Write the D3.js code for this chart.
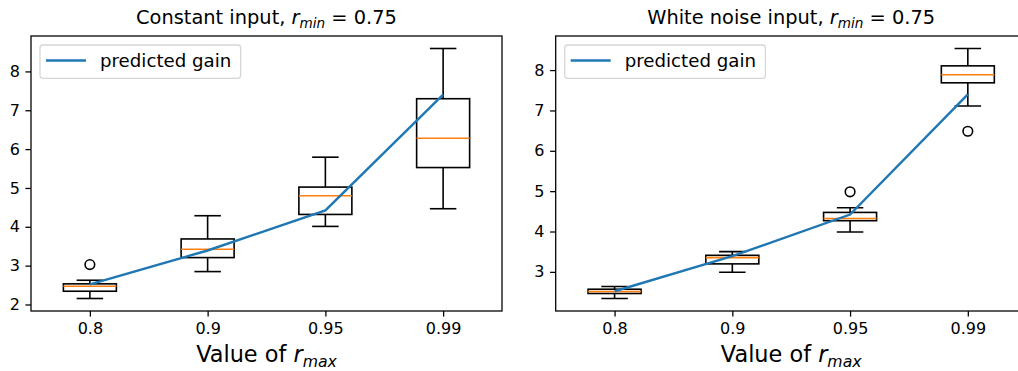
<!DOCTYPE html>
<html><head><meta charset="utf-8">
<script src="https://cdn.jsdelivr.net/npm/d3@7"></script>
<style>
html,body{margin:0;padding:0;background:#fff;}
svg{display:block;font-family:"DejaVu Sans",sans-serif;}
</style></head>
<body>
<svg id="chart" width="1018" height="371"></svg>
<script>
// ---- data ----
const categories = ["0.8", "0.9", "0.95", "0.99"];
const predictedGain = [2.52, 3.39, 4.42, 7.40];

// Constant input box statistics
const constWhisLo = [2.154, 2.847, 4.01, 4.465];
const constQ1     = [2.341, 3.207, 4.318, 5.525];
const constMedian = [2.47, 3.42, 4.798, 6.28];
const constQ3     = [2.531, 3.687, 5.022, 7.297];
const constWhisHi = [2.624, 4.285, 5.792, 8.59];
const constOutliers = [[3.027], [], [], []];

// White noise input box statistics
const noiseWhisLo = [2.34, 2.99, 3.988, 7.109];
const noiseQ1     = [2.464, 3.198, 4.268, 7.685];
const noiseMedian = [2.513, 3.353, 4.324, 7.883];
const noiseQ3     = [2.570, 3.41, 4.473, 8.105];
const noiseWhisHi = [2.637, 3.502, 4.589, 8.535];
const noiseOutliers = [[], [], [4.984], [6.484]];

const constTicks = [2, 3, 4, 5, 6, 7, 8];
const noiseTicks = [3, 4, 5, 6, 7, 8];

// ---- drawing ----
const svg = d3.select("#chart");
const BLUE = "#1f77b4", ORANGE = "#ff7f0e";

function drawPanel(opt) {
  const x0 = opt.left, x1 = opt.left + 471, y0 = 36, y1 = 311;
  const g = svg.append("g");
  const x = d3.scaleLinear().domain([0.5, 4.5]).range([x0, x1]);
  const all = [].concat(opt.lo, opt.hi, opt.out.flat(), predictedGain);
  const mn = d3.min(all), mx = d3.max(all), m = (mx - mn) * 0.05;
  const y = d3.scaleLinear().domain([mn - m, mx + m]).range([y1, y0]);

  const clipId = "clip" + Math.round(opt.left);
  svg.append("clipPath").attr("id", clipId).append("rect")
    .attr("x", x0).attr("y", y0).attr("width", x1 - x0).attr("height", y1 - y0);
  const plot = g.append("g").attr("clip-path", `url(#${clipId})`);

  const bw = 0.45, cw = 0.225;
  categories.forEach((c, i) => {
    const p = i + 1;
    const bg = plot.append("g").attr("fill", "none").attr("stroke", "#000").attr("stroke-width", 1.6);
    // whiskers
    bg.append("line").attr("x1", x(p)).attr("x2", x(p)).attr("y1", y(opt.q1[i])).attr("y2", y(opt.lo[i]));
    bg.append("line").attr("x1", x(p)).attr("x2", x(p)).attr("y1", y(opt.q3[i])).attr("y2", y(opt.hi[i]));
    // caps
    bg.append("line").attr("x1", x(p - cw / 2)).attr("x2", x(p + cw / 2)).attr("y1", y(opt.lo[i])).attr("y2", y(opt.lo[i]));
    bg.append("line").attr("x1", x(p - cw / 2)).attr("x2", x(p + cw / 2)).attr("y1", y(opt.hi[i])).attr("y2", y(opt.hi[i]));
    // box
    bg.append("rect").attr("x", x(p - bw / 2)).attr("width", x(p + bw / 2) - x(p - bw / 2))
      .attr("y", y(opt.q3[i])).attr("height", y(opt.q1[i]) - y(opt.q3[i]));
    // median
    plot.append("line").attr("x1", x(p - bw / 2)).attr("x2", x(p + bw / 2))
      .attr("y1", y(opt.med[i])).attr("y2", y(opt.med[i]))
      .attr("stroke", ORANGE).attr("stroke-width", 1.6);
    // outliers
    opt.out[i].forEach(v => {
      plot.append("circle").attr("cx", x(p)).attr("cy", y(v)).attr("r", 4.8)
        .attr("fill", "none").attr("stroke", "#000").attr("stroke-width", 1.6);
    });
  });

  // predicted gain line
  const line = d3.line().x((d, i) => x(i + 1)).y(d => y(d));
  plot.append("path").datum(predictedGain).attr("d", line)
    .attr("fill", "none").attr("stroke", BLUE).attr("stroke-width", 2.4);

  // axes
  const xa = g.append("g").attr("transform", `translate(0,${y1})`)
    .call(d3.axisBottom(x).tickValues([1, 2, 3, 4]).tickFormat((d, i) => categories[i]).tickSize(5.6).tickPadding(5.6));
  const ya = g.append("g").attr("transform", `translate(${x0},0)`)
    .call(d3.axisLeft(y).tickValues(opt.ticks).tickFormat(d3.format("d")).tickSize(5.6).tickPadding(5.6));
  [xa, ya].forEach(a => {
    a.select(".domain").remove();
    a.selectAll(".tick line").attr("stroke", "#000").attr("stroke-width", 1.28);
    a.selectAll(".tick text").attr("font-size", 16).attr("fill", "#000")
      .attr("font-family", "DejaVu Sans");
  });
  xa.selectAll(".tick text").attr("dy", "0.71em");

  // spines
  g.append("rect").attr("x", x0).attr("y", y0).attr("width", x1 - x0).attr("height", y1 - y0)
    .attr("fill", "none").attr("stroke", "#000").attr("stroke-width", 1.28);

  // title
  const cx = (x0 + x1) / 2;
  const t = g.append("text").attr("x", cx).attr("y", 24).attr("text-anchor", "middle")
    .attr("font-size", 19.4).attr("fill", "#000");
  t.append("tspan").text(opt.title + ", ");
  t.append("tspan").attr("font-style", "italic").text("r");
  t.append("tspan").attr("font-style", "italic").attr("font-size", 13.6).attr("dy", 3.5).text("min");
  t.append("tspan").attr("dy", -3.5).text(" = 0.75");

  // xlabel
  const xl = g.append("text").attr("x", cx).attr("y", 362).attr("text-anchor", "middle")
    .attr("font-size", 22.4).attr("fill", "#000");
  xl.append("tspan").text("Value of ");
  xl.append("tspan").attr("font-style", "italic").text("r");
  xl.append("tspan").attr("font-style", "italic").attr("font-size", 15.7).attr("dy", 4.5).text("max");

  // legend
  const lg = g.append("g").attr("transform", `translate(${x0 + 9},45)`);
  lg.append("rect").attr("width", 200.7).attr("height", 33.3).attr("rx", 3)
    .attr("fill", "#fff").attr("fill-opacity", 0.8).attr("stroke", "#d6d6d6").attr("stroke-width", 1.28);
  lg.append("line").attr("x1", 6).attr("x2", 46).attr("y1", 15.5).attr("y2", 15.5)
    .attr("stroke", BLUE).attr("stroke-width", 2.4);
  lg.append("text").attr("x", 60).attr("y", 22).attr("font-size", 18.2).attr("fill", "#000").text("predicted gain");
}

drawPanel({ left: 31, title: "Constant input", lo: constWhisLo, q1: constQ1, med: constMedian,
  q3: constQ3, hi: constWhisHi, out: constOutliers, ticks: constTicks });
drawPanel({ left: 555.7, title: "White noise input", lo: noiseWhisLo, q1: noiseQ1, med: noiseMedian,
  q3: noiseQ3, hi: noiseWhisHi, out: noiseOutliers, ticks: noiseTicks });
</script>
</body></html>
